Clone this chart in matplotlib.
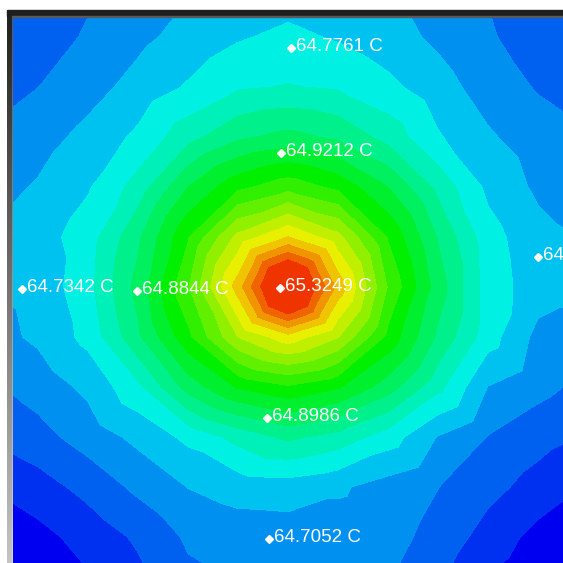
import numpy as np
import matplotlib
matplotlib.use("Agg")
import matplotlib.pyplot as plt
import matplotlib.tri as mtri
from matplotlib.colors import ListedColormap, LinearSegmentedColormap
from matplotlib.patches import Rectangle

# ---- temperature field (deg C), sampled at screenshot pixel positions ----
grid_x = [-12, 38, 88, 138, 188, 238, 288, 338, 388, 438, 488, 538, 588]
grid_y = [-13, 37, 87, 137, 187, 237, 287, 337, 387, 437, 487, 537, 587]
grid_t = [
    [64.648, 64.660, 64.677, 64.698, 64.716, 64.724, 64.736, 64.724, 64.715, 64.701, 64.680, 64.660, 64.648],
    [64.656, 64.667, 64.686, 64.711, 64.733, 64.754, 64.767, 64.754, 64.735, 64.713, 64.686, 64.667, 64.656],
    [64.664, 64.682, 64.706, 64.733, 64.762, 64.791, 64.798, 64.791, 64.768, 64.735, 64.704, 64.679, 64.664],
    [64.686, 64.705, 64.731, 64.766, 64.819, 64.864, 64.883, 64.864, 64.819, 64.762, 64.725, 64.701, 64.682],
    [64.705, 64.724, 64.754, 64.811, 64.909, 64.974, 65.008, 64.974, 64.909, 64.822, 64.749, 64.713, 64.694],
    [64.724, 64.741, 64.777, 64.864, 64.981, 65.110, 65.174, 65.111, 64.981, 64.868, 64.773, 64.732, 64.716],
    [64.724, 64.732, 64.783, 64.884, 65.019, 65.193, 65.325, 65.200, 65.019, 64.890, 64.777, 64.739, 64.732],
    [64.705, 64.727, 64.769, 64.864, 64.974, 65.098, 65.159, 65.100, 64.974, 64.864, 64.775, 64.709, 64.694],
    [64.675, 64.698, 64.729, 64.786, 64.887, 64.951, 64.979, 64.951, 64.890, 64.807, 64.719, 64.694, 64.671],
    [64.648, 64.669, 64.699, 64.730, 64.767, 64.809, 64.841, 64.819, 64.777, 64.718, 64.681, 64.659, 64.641],
    [64.607, 64.628, 64.657, 64.691, 64.721, 64.736, 64.739, 64.726, 64.704, 64.683, 64.657, 64.629, 64.603],
    [64.580, 64.595, 64.621, 64.651, 64.688, 64.699, 64.701, 64.701, 64.694, 64.671, 64.628, 64.595, 64.580],
    [64.561, 64.577, 64.599, 64.630, 64.671, 64.682, 64.690, 64.686, 64.682, 64.648, 64.599, 64.577, 64.561],
]
# extra samples around the hot spot
inner_x = [312, 264, 288, 288, 305, 271, 305, 271, 323, 253, 323, 253]
inner_y = [287, 287, 263, 311, 270, 270, 304, 304, 252, 252, 322, 322]
inner_t = [65.302, 65.302, 65.302, 65.302, 65.302, 65.302, 65.302, 65.302,
           65.189, 65.185, 65.181, 65.178]

# ---- probe labels ----
probe_x = [291, 281, 280, 137, 22, 267, 269, 538]
probe_y = [48, 153, 288, 291, 289, 418, 539, 257]
probe_labels = ["64.7761 C", "64.9212 C", "65.3249 C", "64.8844 C",
                "64.7342 C", "64.8986 C", "64.7052 C", "64.7390 C"]

# ---- contour bands ----
level_min, level_max, n_bands = 64.569, 65.325, 20
band_colors = [
    (0, 0, 240), (0, 48, 240), (0, 96, 240), (0, 144, 240), (0, 194, 240),
    (0, 240, 228), (0, 240, 186), (0, 240, 140), (0, 240, 96), (0, 240, 48),
    (0, 240, 0), (48, 240, 0), (96, 240, 0), (144, 240, 0), (192, 240, 0),
    (232, 240, 0), (240, 196, 0), (240, 148, 0), (240, 100, 0), (240, 52, 0),
]

W = H = 563
fig = plt.figure(figsize=(W / 100, H / 100), dpi=100, facecolor="white")

# plot axes in screenshot pixel coordinates
x0, y0 = 13, 16
ax = fig.add_axes([x0 / W, 0, (W - x0) / W, (H - y0) / H])
ax.set_xlim(x0, W)
ax.set_ylim(H, y0)
ax.axis("off")

gx, gy = np.meshgrid(grid_x, grid_y)
px = np.concatenate([gx.ravel(), np.array(inner_x)])
py = np.concatenate([gy.ravel(), np.array(inner_y)])
pt = np.concatenate([np.array(grid_t).ravel(), np.array(inner_t)])
tri = mtri.Triangulation(px, py)

cmap = ListedColormap([tuple(c / 255 for c in rgb) for rgb in band_colors])
cmap.set_under(tuple(c / 255 for c in band_colors[0]))
cmap.set_over(tuple(c / 255 for c in band_colors[-1]))
levels = np.linspace(level_min, level_max, n_bands + 1)
ax.tricontourf(tri, pt, levels=levels, cmap=cmap, extend="both", antialiased=False)

for x, y, lab in zip(probe_x, probe_y, probe_labels):
    ax.plot([x], [y], marker="D", ms=3.6, color="white", mec="white", clip_on=True)
    ax.annotate(lab, (x, y), xytext=(5, -3), textcoords="offset pixels",
                color="white", fontsize=13.5, family="Liberation Sans",
                ha="left", va="baseline", annotation_clip=False)

# window frame: dark top bar and gradient left bar
fig.patches.append(Rectangle((7 / W, 1 - 16 / H), (W - 7) / W, 6 / H,
                             transform=fig.transFigure, color="#1f1f1f", zorder=5))
fig.patches.append(Rectangle((12 / W, 1 - 16.5 / H), (W - 12) / W, 1 / H,
                             transform=fig.transFigure, color="#5a5a5a", zorder=6))
bar = fig.add_axes([7 / W, 0, 5 / W, (H - 10) / H])
grad = np.linspace(0, 1, 256).reshape(-1, 1)
bar.imshow(grad, aspect="auto", cmap=LinearSegmentedColormap.from_list("g", ["#1f1f1f", "#c4c4c4"]),
           extent=[0, 1, 1, 0])
bar.axis("off")
line = fig.add_axes([12 / W, 0, 1 / W, (H - 16) / H])
line.imshow(grad, aspect="auto", cmap=LinearSegmentedColormap.from_list("g2", ["#5a5a5a", "#d8d8d8"]),
            extent=[0, 1, 1, 0])
line.axis("off")

fig.savefig("out.png", dpi=100, facecolor="white")
